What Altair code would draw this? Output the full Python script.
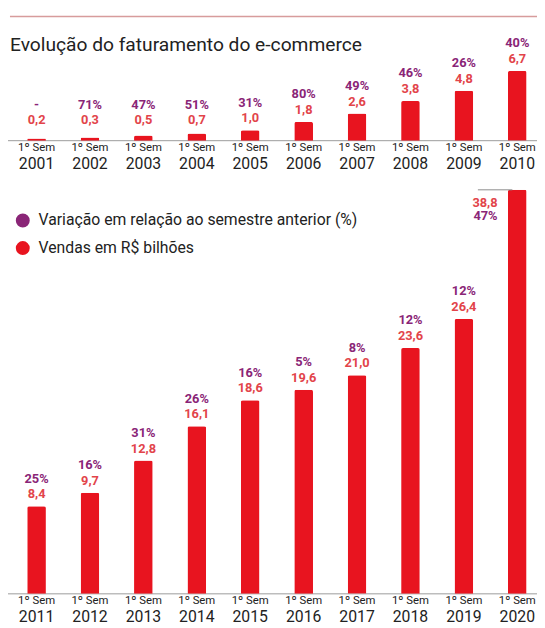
import altair as alt
import pandas as pd

# ---- data ----
years_top = [2001, 2002, 2003, 2004, 2005, 2006, 2007, 2008, 2009, 2010]
values_top = [0.2, 0.3, 0.5, 0.7, 1.0, 1.8, 2.6, 3.8, 4.8, 6.7]
pct_top = ["-", "71%", "47%", "51%", "31%", "80%", "49%", "46%", "26%", "40%"]

years_bottom = [2011, 2012, 2013, 2014, 2015, 2016, 2017, 2018, 2019, 2020]
values_bottom = [8.4, 9.7, 12.8, 16.1, 18.6, 19.6, 21.0, 23.6, 26.4, 38.8]
pct_bottom = ["25%", "16%", "31%", "26%", "16%", "5%", "8%", "12%", "12%", "47%"]

sem_label = "1º Sem"
title_text = "Evolução do faturamento do e-commerce"
series_names = ["Variação em relação ao semestre anterior (%)", "Vendas em R$ bilhões"]

# ---- styles ----
FONT = "Roboto"
TITLE_FONT = "Roboto"
BAR_RED = "#e8141f"
VAL_RED = "#e2444a"
PURPLE = "#8a2577"
DARK = "#222222"

top_df = pd.DataFrame({"idx": list(range(10)), "year": [str(y) for y in years_top],
                       "value": values_top, "pct": pct_top, "sem": sem_label})
bot_df = pd.DataFrame({"idx": list(range(10)), "year": [str(y) for y in years_bottom],
                       "value": values_bottom, "pct": pct_bottom, "sem": sem_label})

xs = alt.Scale(domain=[0, 9], range=[24, 522])
ys_top = alt.Scale(domain=[0, 10], range=[130, 24.3])
ys_bot = alt.Scale(domain=[0, 40], range=[590, 167.2])
cs = alt.Scale(domain=series_names, range=[PURPLE, BAR_RED])
legend = alt.Legend(orient="none", legendX=7, legendY=203, title=None, symbolType="circle",
                    symbolSize=200, rowPadding=12, padding=0, labelOffset=8,
                    labelFont=FONT, labelFontSize=16, labelColor=DARK, labelLimit=400,
                    symbolStrokeWidth=0, symbolOpacity=1)

SALES_EXPR = "'" + series_names[1] + "'"
VAR_EXPR = "'" + series_names[0] + "'"
LABEL_SIZE = 13


def panel(df, ys, sem_y, year_y, special_last):
    base = alt.Chart(df).encode(x=alt.X("idx:Q", scale=xs, axis=None))
    layers = []
    # baseline
    layers.append(
        alt.Chart(df).transform_filter("datum.idx == 0").mark_rule(color="#9b9b9b", strokeWidth=1)
        .encode(x=alt.value(0), x2=alt.value(537),
                y=alt.YDatum(0, type="quantitative", scale=ys, axis=None))
    )
    layers.append(
        base.transform_calculate(serie=SALES_EXPR)
        .mark_bar(size=19, cornerRadiusTopLeft=2, cornerRadiusTopRight=2).encode(
            y=alt.Y("value:Q", scale=ys, axis=None),
            color=alt.Color("serie:N", scale=cs, legend=legend),
        )
    )
    lab = base.transform_calculate(
        lab="replace(format(datum.value, '.1f'), '.', ',')",
        ly="max(datum.value, 0.8)",
        serie=VAR_EXPR,
    )
    normal = lab.transform_filter("datum.idx < 9") if special_last else lab
    layers.append(
        normal.mark_text(font=FONT, fontWeight="bold", fontSize=LABEL_SIZE, color=VAL_RED,
                         baseline="alphabetic", dy=-8)
        .encode(y=alt.Y("ly:Q", scale=ys, axis=None), text="lab:N")
    )
    layers.append(
        normal.mark_text(font=FONT, fontWeight="bold", fontSize=LABEL_SIZE, baseline="alphabetic",
                         dy=-24)
        .encode(y=alt.Y("ly:Q", scale=ys, axis=None), text="pct:N",
                color=alt.Color("serie:N", scale=cs, legend=legend))
    )
    if special_last:
        last = lab.transform_filter("datum.idx == 9")
        layers.append(
            last.mark_rule(color="#8c8c8c", strokeWidth=1)
            .encode(x=alt.value(477), x2=alt.value(512), y=alt.Y("value:Q", scale=ys, axis=None))
        )
        layers.append(
            last.mark_text(font=FONT, fontWeight="bold", fontSize=LABEL_SIZE, color=VAL_RED,
                           baseline="alphabetic", align="right", dx=-20, dy=17)
            .encode(y=alt.Y("value:Q", scale=ys, axis=None), text="lab:N")
        )
        layers.append(
            last.mark_text(font=FONT, fontWeight="bold", fontSize=LABEL_SIZE, baseline="alphabetic",
                           align="right", dx=-20, dy=31)
            .encode(y=alt.Y("value:Q", scale=ys, axis=None), text="pct:N",
                    color=alt.Color("serie:N", scale=cs, legend=legend))
        )
    layers.append(
        base.mark_text(font=FONT, fontSize=11.5, color=DARK, baseline="alphabetic")
        .encode(y=alt.value(sem_y), text="sem:N")
    )
    layers.append(
        base.mark_text(font=FONT, fontSize=16, color=DARK, baseline="alphabetic")
        .encode(y=alt.value(year_y), text="year:N")
    )
    return layers


head = alt.Chart(top_df).transform_filter("datum.idx == 0")
header = [
    head.mark_rule(color="#d79c9c", strokeWidth=1.5)
    .encode(x=alt.value(2), x2=alt.value(537), y=alt.value(4)),
    head.mark_text(font=TITLE_FONT, fontSize=19.5, color=DARK, align="left", baseline="alphabetic")
    .encode(x=alt.value(2), y=alt.value(39), text=alt.value(title_text)),
]

layers = header + panel(top_df, ys_top, 140, 159, False) + panel(bot_df, ys_bot, 600, 619, True)

chart = (
    alt.layer(*layers)
    .resolve_scale(y="independent")
    .properties(width=537, height=620, autosize=alt.AutoSizeParams(type="none"), padding=0)
    .configure_view(stroke=None)
)

chart.save("out.html", embed_options={"renderer": "svg", "actions": False})
